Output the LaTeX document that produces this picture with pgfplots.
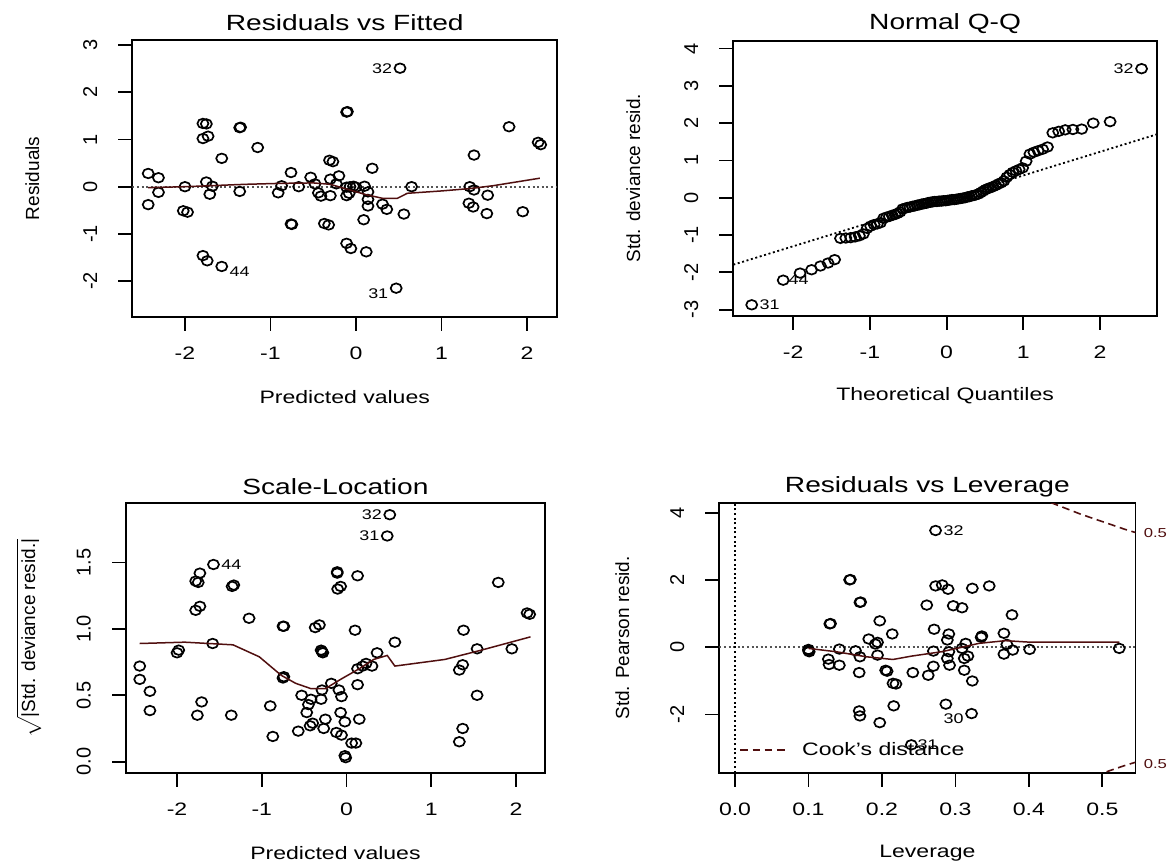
\documentclass[border=0pt]{standalone}
\usepackage{fontspec}
\setmainfont{Liberation Sans}[FakeStretch=1.28]
\newfontfamily\plainsans{Liberation Sans}
\usepackage{pgfplots}
\pgfplotsset{compat=1.18}
\definecolor{loess}{RGB}{80,15,15}
\definecolor{refgray}{RGB}{85,85,85}
\tikzset{idlab/.style={font=\fontsize{7}{8}\selectfont, inner sep=0pt}}
\pgfplotsset{
  every axis title shift=0pt,
  rplot/.style={
    scale only axis,
    clip mode=individual,
    axis line style={line width=0.9pt},
    tick align=outside,
    major tick length=7pt,
    every tick/.style={line width=0.9pt, black},
    tick pos=left,
    minor tick num=0,
    /pgf/number format/assume math mode=true,
    xticklabel style={font=\fontsize{9}{10}\selectfont},
    yticklabel style={font=\plainsans\fontsize{10}{11}\selectfont, rotate=90, anchor=south},
    xticklabel shift=4.5pt,
    yticklabel shift=7pt,
    title style={font=\fontsize{11}{13}\selectfont, anchor=center},
    xlabel style={font=\fontsize{9}{10}\selectfont, anchor=center},
    ylabel style={font=\plainsans\fontsize{9.5}{11}\selectfont, anchor=center},
  },
  rpts/.style={only marks, mark=o, mark size=2.4pt, black, mark options={line width=0.85pt, xscale=1.15}},
  rdot/.style={line width=0.9pt, dash pattern=on 1pt off 1.3pt},
  rsmooth/.style={loess, line width=0.75pt, no marks},
}
\begin{document}
\begin{tikzpicture}
\useasboundingbox (0,0) rectangle (586pt,432.5pt);
% ---------------- Residuals vs Fitted ----------------
\begin{axis}[rplot, at={(66.15pt,274.15pt)}, anchor=south west,
  width=212.45pt, height=138.35pt,
  xmin=-2.616, xmax=2.353, ymin=-2.754, ymax=3.108,
  xtick={-2,-1,0,1,2}, ytick={-2,-1,0,1,2,3},
  title={Residuals vs Fitted}, xlabel={Predicted values}, ylabel={Residuals},
  title style={at={(axis description cs:0.5,1.0614)}},
  xlabel style={at={(axis description cs:0.5,-0.2891)}},
  ylabel style={at={(axis description cs:-0.2353,0.5)}},
]
\addplot[rdot, refgray, forget plot] coordinates {(-2.616,0) (2.353,0)};
\addplot[rpts] coordinates {
(-2.43,0.28) (-2.31,0.19) (-2.31,-0.12) (-2.43,-0.38) (-2.00,0.00) (-2.02,-0.51) (-1.97,-0.54)
(-1.79,1.34) (-1.75,1.33) (-1.79,1.02) (-1.73,1.07) (-1.75,0.10) (-1.71,-0.16) (-1.68,0.01)
(-1.79,-1.46) (-1.74,-1.57) (-1.57,-1.69) (-1.57,0.60) (-1.36,1.25) (-1.35,1.26) (-1.36,-0.10)
(-1.15,0.83) (-0.91,-0.13) (-0.87,0.02) (-0.76,0.30) (-0.76,-0.79) (-0.75,-0.80) (-0.67,0.00)
(-0.53,0.20) (-0.48,0.06) (-0.44,-0.13) (-0.41,-0.20) (-0.37,-0.78) (-0.32,-0.81) (-0.31,0.56)
(-0.27,0.53) (-0.30,0.16) (-0.30,-0.19) (-0.20,0.23) (-0.23,0.06) (-0.11,1.58) (-0.10,1.59)
(-0.11,-0.01) (-0.11,-0.19) (-0.08,-0.14) (-0.07,0.00) (-0.03,0.01) (0.00,-0.01) (0.10,0.01)
(0.14,-0.11) (0.14,-0.27) (0.14,-0.41) (0.19,0.39) (0.09,-0.70) (-0.11,-1.20) (-0.06,-1.31)
(0.12,-1.38) (0.31,-0.37) (0.36,-0.48) (0.56,-0.58) (0.65,0.00) (0.515,2.51) (0.47,-2.15)
(1.33,0.00) (1.38,0.67) (1.38,-0.07) (1.32,-0.35) (1.37,-0.43) (1.54,-0.18) (1.53,-0.57)
(1.79,1.27) (1.95,-0.53) (2.13,0.94) (2.16,0.89)
};
\addplot[rsmooth] coordinates {
(-2.43,-0.02) (-2.0,0.0) (-1.3,0.05) (-0.9,0.07) (-0.5,0.08) (-0.3,0.05) (-0.11,-0.05)
(0.12,-0.17) (0.32,-0.25) (0.48,-0.25) (0.60,-0.14) (1.0,-0.09) (1.33,-0.04) (1.6,0.02) (2.15,0.18)
};
\node[idlab, anchor=east, xshift=-3.8pt] at (axis cs:0.515,2.51) {32};
\node[idlab, anchor=west, xshift=3.8pt, yshift=-2.5pt] at (axis cs:-1.57,-1.69) {44};
\node[idlab, anchor=east, xshift=-3.8pt, yshift=-3pt] at (axis cs:0.47,-2.15) {31};
\end{axis}
% ---------------- Normal Q-Q ----------------
\begin{axis}[rplot, at={(366.65pt,274.5pt)}, anchor=south west,
  width=211.8pt, height=137.65pt,
  xmin=-2.78, xmax=2.74, ymin=-3.17, ymax=4.21,
  xtick={-2,-1,0,1,2}, ytick={-3,-2,-1,0,1,2,3,4},
  title={Normal Q-Q}, xlabel={Theoretical Quantiles}, ylabel={Std. deviance resid.},
  title style={at={(axis description cs:0.5,1.0618)}},
  xlabel style={at={(axis description cs:0.5,-0.2906)}},
  ylabel style={at={(axis description cs:-0.2361,0.5)}},
]
\addplot[rdot, black, forget plot] coordinates {(-2.78,-1.795) (2.74,1.70)};
\addplot[rpts] coordinates {
(-2.54,-2.87) (-2.13,-2.21) (-1.91,-2.02) (-1.76,-1.93) (-1.645,-1.83) (-1.545,-1.75)
(-1.46,-1.66) (-1.383,-1.09) (-1.314,-1.08) (-1.25,-1.07) (-1.192,-1.05) (-1.137,-1.02)
(-1.085,-0.97) (-1.036,-0.82) (-0.99,-0.76) (-0.945,-0.72) (-0.903,-0.70) (-0.862,-0.67)
(-0.822,-0.55) (-0.783,-0.52) (-0.746,-0.50) (-0.71,-0.47) (-0.674,-0.45) (-0.64,-0.42)
(-0.606,-0.38) (-0.573,-0.30) (-0.54,-0.28) (-0.508,-0.26) (-0.477,-0.25) (-0.446,-0.23)
(-0.415,-0.22) (-0.385,-0.20) (-0.355,-0.19) (-0.326,-0.17) (-0.297,-0.16) (-0.268,-0.15)
(-0.24,-0.13) (-0.21,-0.12) (-0.182,-0.11) (-0.154,-0.10) (-0.126,-0.10) (-0.098,-0.09)
(-0.07,-0.09) (-0.042,-0.08) (-0.014,-0.08) (0.014,-0.07) (0.042,-0.06) (0.07,-0.05)
(0.098,-0.05) (0.126,-0.04) (0.154,-0.03) (0.182,-0.02) (0.21,-0.01) (0.24,0.00)
(0.268,0.02) (0.297,0.03) (0.326,0.05) (0.355,0.06) (0.385,0.08) (0.415,0.10)
(0.446,0.14) (0.477,0.18) (0.508,0.22) (0.54,0.25) (0.573,0.27) (0.606,0.30)
(0.64,0.33) (0.674,0.37) (0.71,0.40) (0.746,0.45) (0.783,0.55) (0.822,0.62)
(0.862,0.68) (0.903,0.72) (0.945,0.76) (0.99,0.80) (1.036,0.98) (1.085,1.17)
(1.137,1.22) (1.192,1.26) (1.25,1.30) (1.314,1.36) (1.383,1.74) (1.46,1.78)
(1.545,1.82) (1.645,1.83) (1.76,1.84) (1.91,2.00) (2.13,2.04) (2.54,3.46)
};
\node[idlab, anchor=east, xshift=-3.8pt] at (axis cs:2.54,3.46) {32};
\node[idlab, anchor=west, xshift=2.5pt] at (axis cs:-2.13,-2.21) {44};
\node[idlab, anchor=west, xshift=3.8pt] at (axis cs:-2.54,-2.87) {31};
\end{axis}
% ---------------- Scale-Location ----------------
\begin{axis}[rplot, at={(63pt,46.15pt)}, anchor=south west,
  width=209.45pt, height=134.7pt,
  xmin=-2.602, xmax=2.34, ymin=-0.083, ymax=1.946,
  xtick={-2,-1,0,1,2}, ytick={0,0.5,1,1.5}, yticklabels={0.0,0.5,1.0,1.5},
  title={Scale-Location}, xlabel={Predicted values},
  ylabel={$\sqrt{\mbox{|Std. deviance resid.|}}$},
  title style={at={(axis description cs:0.5,1.0609)}},
  xlabel style={at={(axis description cs:0.5,-0.297)}},
  ylabel style={at={(axis description cs:-0.2316,0.5)}},
]
\addplot[rpts] coordinates {
(0.51,1.86) (0.48,1.70) (-1.57,1.485) (-1.73,1.42) (-1.78,1.36) (-1.75,1.35) (-1.78,1.14)
(-1.73,1.17) (-1.35,1.32) (-1.33,1.33) (-1.15,1.08) (-0.75,1.02) (-0.74,1.02) (-0.37,1.01)
(-0.32,1.03) (-0.30,0.84) (-0.28,0.82) (-0.29,0.83) (-0.11,1.42) (-0.11,1.43) (-0.105,1.30)
(-0.07,1.32) (0.13,1.40) (0.10,0.99) (0.57,0.90) (0.36,0.82) (0.19,0.72) (0.23,0.74)
(0.30,0.72) (0.13,0.58) (0.13,0.70) (-0.18,0.59) (-0.09,0.54) (-0.06,0.49) (-0.29,0.54)
(-0.42,0.47) (-0.53,0.50) (-0.45,0.43) (-0.47,0.37) (-0.30,0.47) (-0.40,0.29) (-0.43,0.27)
(-0.25,0.32) (-0.27,0.25) (-0.07,0.37) (-0.02,0.30) (0.15,0.32) (-0.12,0.22) (-0.06,0.20)
(0.06,0.14) (0.11,0.14) (-0.02,0.045) (-0.01,0.03) (-0.57,0.23) (-0.87,0.19) (-0.90,0.42)
(-0.75,0.63) (-0.74,0.64) (-1.58,0.89) (-2.00,0.82) (-1.98,0.84) (-2.44,0.72) (-2.44,0.62)
(-2.32,0.53) (-2.32,0.385) (-1.76,0.35) (-1.71,0.45) (-1.36,0.35) (1.33,0.69) (1.37,0.73)
(1.38,0.99) (1.54,0.85) (1.54,0.50) (1.37,0.25) (1.33,0.15) (1.79,1.35) (1.95,0.85)
(2.13,1.12) (2.16,1.11)
};
\addplot[rsmooth] coordinates {
(-2.44,0.89) (-1.91,0.90) (-1.34,0.88) (-1.03,0.79) (-0.77,0.65) (-0.60,0.59) (-0.42,0.55)
(-0.25,0.55) (-0.07,0.62) (0.15,0.70) (0.32,0.77) (0.48,0.80) (0.57,0.72) (1.16,0.77)
(1.59,0.84) (2.17,0.94)
};
\node[idlab, anchor=east, xshift=-3.8pt] at (axis cs:0.51,1.86) {32};
\node[idlab, anchor=east, xshift=-3.8pt] at (axis cs:0.48,1.70) {31};
\node[idlab, anchor=west, xshift=3.8pt] at (axis cs:-1.57,1.485) {44};
\end{axis}
% ---------------- Residuals vs Leverage ----------------
\begin{axis}[rplot, at={(359.65pt,46.15pt)}, anchor=south west,
  width=208.05pt, height=134.7pt,
  xmin=-0.0214, xmax=0.545, ymin=-3.73, ymax=4.29,
  xtick={0,0.1,0.2,0.3,0.4,0.5}, xticklabels={0.0,0.1,0.2,0.3,0.4,0.5},
  ytick={-2,0,2,4},
  title={Residuals vs Leverage}, xlabel={Leverage}, ylabel={Std. Pearson resid.},
  title style={at={(axis description cs:0.5,1.0609)}},
  xlabel style={at={(axis description cs:0.5,-0.297)}},
  ylabel style={at={(axis description cs:-0.2331,0.5)}},
  legend style={at={(axis cs:0.0056,-3.06)}, anchor=west, draw=none, fill=none,
    inner sep=0pt, font=\fontsize{9}{10}\selectfont,
    /tikz/every odd column/.style={column sep=6pt}},
  legend cell align=left,
  legend image code/.code={\draw[#1] (0pt,0pt) -- (22.5pt,0pt);},
]
\addplot[rdot, refgray, forget plot] coordinates {(-0.0214,0) (0.545,0)};
\addplot[rdot, black, forget plot] coordinates {(0,-3.73) (0,4.29)};
\addplot[rpts, forget plot] coordinates {
(0.273,3.48) (0.156,2.01) (0.157,2.02) (0.170,1.34) (0.171,1.35) (0.129,0.70) (0.130,0.71)
(0.197,0.79) (0.182,0.25) (0.191,0.10) (0.194,0.15) (0.214,0.40) (0.100,-0.06) (0.100,-0.10)
(0.101,-0.13) (0.127,-0.35) (0.128,-0.51) (0.142,-0.05) (0.142,-0.53) (0.164,-0.10) (0.170,-0.28)
(0.169,-0.75) (0.194,-0.23) (0.205,-0.68) (0.207,-0.71) (0.215,-1.07) (0.219,-1.09) (0.242,-0.75)
(0.216,-1.74) (0.169,-1.89) (0.170,-2.04) (0.197,-2.24) (0.261,1.26) (0.273,1.83) (0.282,1.86)
(0.290,1.73) (0.297,1.24) (0.309,1.18) (0.323,1.76) (0.346,1.83) (0.271,0.54) (0.291,0.40)
(0.289,0.22) (0.270,-0.11) (0.270,-0.56) (0.263,-0.83) (0.289,-0.33) (0.291,-0.13) (0.292,-0.53)
(0.309,-0.03) (0.314,0.12) (0.312,-0.33) (0.317,-0.26) (0.312,-0.68) (0.323,-1.00) (0.335,0.30)
(0.336,0.34) (0.366,0.42) (0.370,0.09) (0.366,-0.20) (0.377,0.97) (0.378,-0.08) (0.401,-0.06)
(0.523,-0.03) (0.287,-1.69) (0.322,-1.97) (0.240,-2.90)
};
\addplot[rsmooth, forget plot] coordinates {
(0.10,-0.03) (0.138,-0.13) (0.179,-0.28) (0.215,-0.36) (0.24,-0.26) (0.281,-0.13) (0.312,0.02)
(0.332,0.12) (0.368,0.20) (0.398,0.16) (0.523,0.16)
};
\addplot[loess, line width=0.8pt, dash pattern=on 3.8pt off 2.3pt] coordinates {
(0.43,4.31) (0.45,4.14) (0.47,3.97) (0.49,3.82) (0.51,3.67) (0.53,3.52) (0.545,3.42)
};
\addlegendentry{Cook's distance}
\addplot[loess, line width=0.8pt, dash pattern=on 3.8pt off 2.3pt, forget plot] coordinates {
(0.49,-3.82) (0.51,-3.67) (0.53,-3.52) (0.545,-3.42)
};
\node[idlab, anchor=west, xshift=3.8pt] at (axis cs:0.273,3.48) {32};
\node[idlab, anchor=east, xshift=-3.8pt, yshift=-2.5pt] at (axis cs:0.322,-1.97) {30};
\node[idlab, anchor=west, xshift=3pt] at (axis cs:0.240,-2.90) {31};
\node[font=\fontsize{6.5}{7}\selectfont, text=loess, anchor=west, inner sep=0pt, xshift=4pt] at (axis cs:0.545,3.40) {0.5};
\node[font=\fontsize{6.5}{7}\selectfont, text=loess, anchor=west, inner sep=0pt, xshift=4pt] at (axis cs:0.545,-3.46) {0.5};
\end{axis}
\end{tikzpicture}
\end{document}
